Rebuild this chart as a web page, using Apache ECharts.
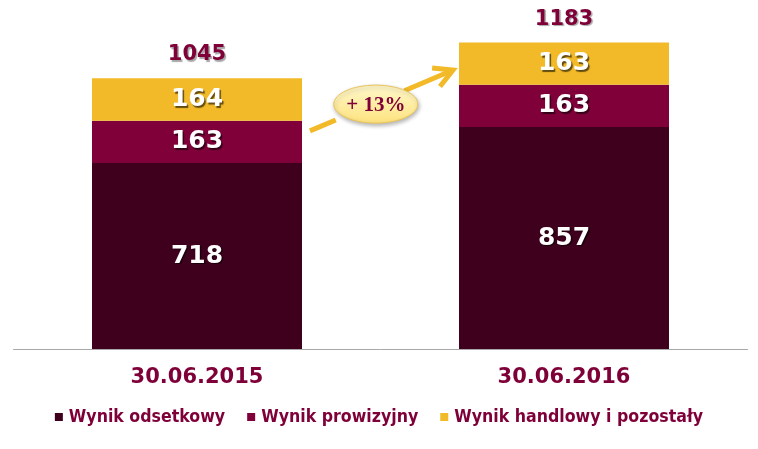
<!DOCTYPE html>
<html><head><meta charset="utf-8">
<script src="https://cdn.jsdelivr.net/npm/echarts@6/dist/echarts.min.js"></script>
<style>html,body{margin:0;padding:0;background:#fff}#c{width:758px;height:449px}</style>
</head><body><div id="c"></div>
<script>
const categories = ['30.06.2015', '30.06.2016'];
const odsetkowy = [718, 857];
const prowizyjny = [163, 163];
const handlowy = [164, 163];
const totals = [1045, 1183];
const seriesNames = ['Wynik odsetkowy', 'Wynik prowizyjny', 'Wynik handlowy i pozostały'];
const growthLabel = '+ 13%';

const colDark = '#3f001d', colWine = '#80003a', colGold = '#f2ba28', txt = '#7f0038';
const segLabel = {show:true, position:'inside', color:'#fff', fontFamily:'DejaVu Sans', fontWeight:'bold', fontSize:25,
  textShadowColor:'rgba(0,0,0,0.6)', textShadowOffsetX:1.5, textShadowOffsetY:1.5, textShadowBlur:1};

const chart = echarts.init(document.getElementById('c'));
chart.setOption({
  animation:false,
  grid:{left:13.5, right:10.5, top:12.3, bottom:100},
  legend:{data:seriesNames, bottom:18, left:'center', icon:'rect', itemWidth:8, itemHeight:8, itemGap:22,
    textStyle:{color:txt, fontFamily:'DejaVu Sans Condensed', fontWeight:'bold', fontSize:17.6, padding:[0,0,0,1]}},
  xAxis:{type:'category', data:categories, axisLine:{lineStyle:{color:'#a8a8a8', width:1}}, axisTick:{show:false},
    axisLabel:{color:txt, fontFamily:'DejaVu Sans', fontWeight:'bold', fontSize:21, margin:18,
      textShadowColor:'rgba(0,0,0,0.25)', textShadowOffsetX:1, textShadowOffsetY:1}},
  yAxis:{type:'value', min:0, max:1300, show:false, splitLine:{show:false}},
  series:[
    {name:seriesNames[0], type:'bar', stack:'s', data:odsetkowy, barWidth:210, itemStyle:{color:colDark}, label:segLabel},
    {name:seriesNames[1], type:'bar', stack:'s', data:prowizyjny, barWidth:210, itemStyle:{color:colWine}, label:segLabel},
    {name:seriesNames[2], type:'bar', stack:'s', data:handlowy, barWidth:210, itemStyle:{color:colGold}, label:segLabel},
    {name:'total', type:'scatter', data:totals, symbolSize:2, itemStyle:{color:'rgba(0,0,0,0)', opacity:1}, silent:true, z:5,
      label:{show:true, position:'top', distance:12, color:txt, opacity:1, fontFamily:'DejaVu Sans', fontWeight:'bold', fontSize:21,
        formatter:p=>String(p.value),
        textShadowColor:'rgba(0,0,0,0.35)', textShadowOffsetX:1.5, textShadowOffsetY:1.5, textShadowBlur:1}}
  ]
});

// Growth arrow annotation, positioned relative to the bars
const c0 = chart.convertToPixel({gridIndex:0}, [0, 842]);
const c1 = chart.convertToPixel({gridIndex:0}, [1, 1077]);
const x0 = c0[0] + 113, y0 = c0[1];
const x1 = c1[0] - 111, y1 = c1[1];
const ang = Math.atan2(y1 - y0, x1 - x0);
const L = 21, a = 0.5;
const p1 = [x1 - L*Math.cos(ang - a), y1 - L*Math.sin(ang - a)];
const p2 = [x1 - L*Math.cos(ang + a), y1 - L*Math.sin(ang + a)];
const pt = f => [x0 + (x1 - x0)*f, y0 + (y1 - y0)*f];
const s1a = pt(0), s1b = pt(0.18), s2a = pt(0.66), s2b = pt(0.985);
const ex = x0 + (x1 - x0)*0.46, ey = y0 + (y1 - y0)*0.44;
chart.setOption({graphic:[
  {type:'line', shape:{x1:s1a[0], y1:s1a[1], x2:s1b[0], y2:s1b[1]}, style:{stroke:colGold, lineWidth:5}, z:10},
  {type:'line', shape:{x1:s2a[0], y1:s2a[1], x2:s2b[0], y2:s2b[1]}, style:{stroke:colGold, lineWidth:5}, z:10},
  {type:'polyline', shape:{points:[p1,[x1,y1],p2]}, style:{stroke:colGold, lineWidth:5, fill:null, lineJoin:'miter'}, z:10},
  {type:'ellipse', shape:{cx:ex, cy:ey, rx:42, ry:19}, z:11,
    style:{fill:new echarts.graphic.LinearGradient(0,0,0,1,[{offset:0,color:'#fff8cc'},{offset:1,color:'#fde27e'}]),
      stroke:'#e9c35a', lineWidth:1, shadowColor:'rgba(0,0,0,0.3)', shadowBlur:4, shadowOffsetX:1, shadowOffsetY:2}},
  {type:'text', x:ex, y:ey + 1, z:12, style:{text:growthLabel, fill:txt, font:'bold 21px "Liberation Serif"', align:'center', verticalAlign:'middle'}}
]});
</script></body></html>
